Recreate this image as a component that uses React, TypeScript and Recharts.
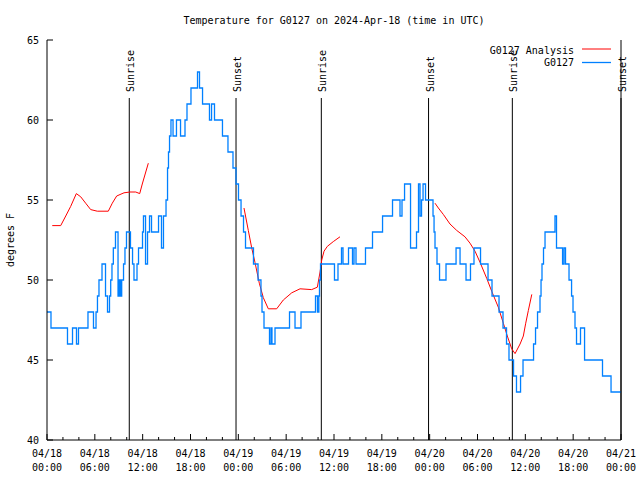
import { LineChart, Line, XAxis, YAxis, ReferenceLine } from 'recharts';

// hours since 2024-04-18 00:00 UTC, temperature in degrees F
const observed: [number, number][] = [
  [0, 48], [0.5, 47], [2.57, 46], [3.2, 47], [3.7, 46], [3.95, 47], [5.14, 48], [5.83, 47],
  [6.15, 48], [6.33, 49], [6.52, 50], [6.9, 51], [7.34, 49], [7.59, 48], [7.84, 49], [7.99, 50],
  [8.15, 51], [8.32, 52], [8.59, 53], [8.91, 49], [9.07, 50], [9.22, 49], [9.37, 50], [9.6, 51],
  [9.78, 52], [9.97, 53], [10.47, 52], [10.73, 51], [10.91, 50], [11.29, 51], [11.48, 52],
  [11.98, 53], [12.1, 54], [12.36, 51], [12.61, 53], [12.86, 54], [13.11, 53], [13.99, 54],
  [14.36, 52], [14.61, 54], [14.93, 55], [15.12, 57], [15.24, 58], [15.37, 59], [15.55, 60],
  [15.81, 59], [16.24, 60], [16.75, 59], [17.31, 60], [17.56, 61], [18.06, 62], [18.88, 63],
  [19.13, 62], [19.51, 61], [20.38, 60], [20.64, 61], [21.01, 60], [22.01, 59], [22.7, 58],
  [23.33, 57], [23.71, 56], [24.02, 55], [24.34, 54], [24.65, 53], [24.9, 52], [25.9, 51],
  [26.47, 50], [26.84, 49], [26.97, 48], [27.22, 47], [27.91, 46], [28.1, 47], [28.22, 46],
  [28.6, 47], [30.42, 48], [31.11, 47], [31.86, 48], [33.68, 49], [33.93, 48], [34.1, 49],
  [34.18, 50], [34.31, 51], [36.06, 50], [36.5, 51], [36.94, 52], [37.13, 51], [37.82, 52],
  [38.32, 51], [38.51, 52], [38.76, 51], [39.95, 52], [40.83, 53], [42.09, 54], [43.34, 55],
  [44.28, 54], [44.53, 55], [44.85, 56], [45.6, 52], [46.35, 53], [46.6, 56], [46.79, 54],
  [46.98, 55], [47.17, 56], [47.48, 55], [48.42, 54], [48.55, 53], [48.67, 52], [48.92, 51],
  [49.24, 50], [50.05, 51], [51.31, 52], [51.81, 51], [52.56, 50], [53.12, 51], [53.56, 52],
  [54.38, 51], [55.32, 50], [55.82, 49], [56.7, 48], [57.2, 47], [57.64, 46], [57.95, 45],
  [58.52, 44], [58.89, 43], [59.4, 44], [59.71, 45], [61.03, 46], [61.28, 47], [61.53, 48],
  [61.84, 49], [61.97, 50], [62.09, 51], [62.28, 52], [62.47, 53], [63.72, 54], [63.91, 52],
  [64.67, 51], [64.85, 52], [65.04, 51], [65.48, 50], [65.8, 49], [65.98, 48], [66.23, 47],
  [66.42, 46], [66.92, 47], [67.43, 45], [69.68, 44], [70.75, 43], [72, 43],
];

const analysisDay1: [number, number][] = [
  [0.66, 53.4], [1.72, 53.4], [2.35, 54.0], [2.97, 54.6], [3.68, 55.4], [4.23, 55.2], [4.85, 54.8],
  [5.48, 54.4], [6.31, 54.3], [7.69, 54.3], [8.19, 54.8], [8.74, 55.25], [9.66, 55.45],
  [10.41, 55.5], [11.13, 55.5], [11.63, 55.4], [11.95, 56.0], [12.71, 57.3],
];
const analysisDay2: [number, number][] = [
  [24.71, 54.5], [25.25, 53.1], [25.68, 52.0], [26.09, 51.1], [26.63, 49.8], [27.13, 48.9],
  [27.76, 48.2], [28.81, 48.2], [29.64, 48.75], [30.7, 49.2], [31.74, 49.45], [33.2, 49.4],
  [33.91, 49.55], [34.25, 50.5], [34.46, 51.25], [34.75, 51.8], [35.16, 52.1], [35.91, 52.4],
  [36.75, 52.7],
];
const analysisDay3: [number, number][] = [
  [48.67, 54.8], [49.09, 54.5], [49.71, 54.1], [50.55, 53.5], [51.39, 53.1], [52.43, 52.7],
  [53.06, 52.3], [53.69, 51.8], [54.32, 51.1], [55.16, 50.1], [55.78, 49.3], [56.61, 48.3],
  [57.24, 47.3], [57.74, 46.5], [58.29, 45.7], [58.71, 45.4], [59.34, 46.0], [59.75, 46.5],
  [60.05, 47.3], [60.38, 48.1], [60.81, 49.1],
];

const sunEvents: [number, string][] = [
  [10.32, 'Sunrise'], [23.71, 'Sunset'], [34.41, 'Sunrise'],
  [47.86, 'Sunset'], [58.37, 'Sunrise'], [72, 'Sunset'],
];

const dayLabels = ['04/18', '04/19', '04/20', '04/21'];
const hourTicks = [
  0, 2, 4, 6, 8, 10, 12, 14, 16, 18, 20, 22, 24, 26, 28, 30, 32, 34, 36,
  38, 40, 42, 44, 46, 48, 50, 52, 54, 56, 58, 60, 62, 64, 66, 68, 70, 72,
];
const tempTicks = [40, 45, 50, 55, 60, 65];

const FONT = 'DejaVu Sans Mono';
const RED = '#ff0000';
const BLUE = '#0080ff';

const observedData = observed.map(([h, t]) => ({ h, t }));
const analysisData = [
  ...analysisDay1.map(([h, t]) => ({ h, t })),
  { h: 18, t: null },
  ...analysisDay2.map(([h, t]) => ({ h, t })),
  { h: 42, t: null },
  ...analysisDay3.map(([h, t]) => ({ h, t })),
];

function BottomTick({ x, y, payload }: any) {
  const h = payload.value;
  const major = h % 6 === 0;
  const hh = String(h % 24).padStart(2, '0');
  return (
    <g>
      <line x1={x} x2={x} y1={y} y2={y - (major ? 6 : 3)} stroke="#000" />
      {major && (
        <text x={x} y={y + 17} textAnchor="middle" fontFamily={FONT} fontSize={10} fill="#000">
          <tspan x={x}>{dayLabels[Math.floor(h / 24)]}</tspan>
          <tspan x={x} dy={14}>{hh}:00</tspan>
        </text>
      )}
    </g>
  );
}

function TopTick({ x, y, payload }: any) {
  const major = payload.value % 6 === 0;
  return <line x1={x} x2={x} y1={y} y2={y + (major ? 6 : 3)} stroke="#000" />;
}

function LeftTick({ x, y, payload }: any) {
  return (
    <g>
      <line x1={x} x2={x + 6} y1={y} y2={y} stroke="#000" />
      <text x={x - 8} y={y + 3.5} textAnchor="end" fontFamily={FONT} fontSize={10} fill="#000">
        {payload.value}
      </text>
    </g>
  );
}

function RightTick({ x, y }: any) {
  return <line x1={x} x2={x - 6} y1={y} y2={y} stroke="#000" />;
}

function sunLabel(text: string) {
  return (p: any) => {
    const vb = p.viewBox || {};
    const x = (vb.x ?? 0) + 5;
    const y = (vb.y ?? 0) - 6;
    return (
      <text x={x} y={y} transform={`rotate(-90 ${x} ${y})`} textAnchor="start"
        fontFamily={FONT} fontSize={10} fill="#000">
        {text}
      </text>
    );
  };
}

export default function App() {
  return (
    <div style={{ position: 'absolute', left: 0, top: 0, background: '#fff' }}>
      <LineChart width={640} height={480} margin={{ top: 40, right: 0, bottom: 0, left: 0 }}>
        <XAxis dataKey="h" type="number" domain={[0, 72]} ticks={hourTicks} interval={0}
          height={40} tickSize={0} tickMargin={0} tick={<BottomTick />}
          axisLine={{ stroke: '#000' }} />
        <XAxis xAxisId="top" orientation="top" type="number" domain={[0, 72]} ticks={hourTicks}
          interval={0} height={0} tickSize={0} tickMargin={0} tick={<TopTick />}
          axisLine={{ stroke: '#000' }} />
        <YAxis type="number" domain={[40, 65]} ticks={tempTicks} interval={0} width={47}
          tickSize={0} tickMargin={0} tick={<LeftTick />} axisLine={{ stroke: '#000' }} />
        <YAxis yAxisId="right" orientation="right" type="number" domain={[40, 65]}
          ticks={tempTicks} interval={0} width={19} tickSize={0} tickMargin={0}
          tick={<RightTick />} axisLine={{ stroke: '#000' }} />

        {sunEvents.map(([h, name], i) => (
          <ReferenceLine key={i} segment={[{ x: h, y: 61.375 }, { x: h, y: 40 }]}
            stroke="#000" strokeWidth={1} label={sunLabel(name)} />
        ))}

        <Line data={analysisData} dataKey="t" type="linear" stroke={RED} strokeWidth={1}
          dot={false} connectNulls={false} isAnimationActive={false} />
        <Line data={observedData} dataKey="t" type="stepAfter" stroke={BLUE} strokeWidth={1.3}
          dot={false} isAnimationActive={false} />

        <text x={334} y={23.5} textAnchor="middle" fontFamily={FONT} fontSize={10} fill="#000">
          Temperature for G0127 on 2024-Apr-18 (time in UTC)
        </text>
        <text x={14} y={240} transform="rotate(-90 14 240)" textAnchor="middle"
          fontFamily={FONT} fontSize={10} fill="#000">
          degrees F
        </text>
        <text x={574} y={53.5} textAnchor="end" fontFamily={FONT} fontSize={10} fill="#000">
          G0127 Analysis
        </text>
        <line x1={582} x2={611} y1={49} y2={49} stroke={RED} strokeWidth={1} />
        <text x={574} y={66} textAnchor="end" fontFamily={FONT} fontSize={10} fill="#000">
          G0127
        </text>
        <line x1={582} x2={611} y1={62.5} y2={62.5} stroke={BLUE} strokeWidth={1.3} />
      </LineChart>
    </div>
  );
}
